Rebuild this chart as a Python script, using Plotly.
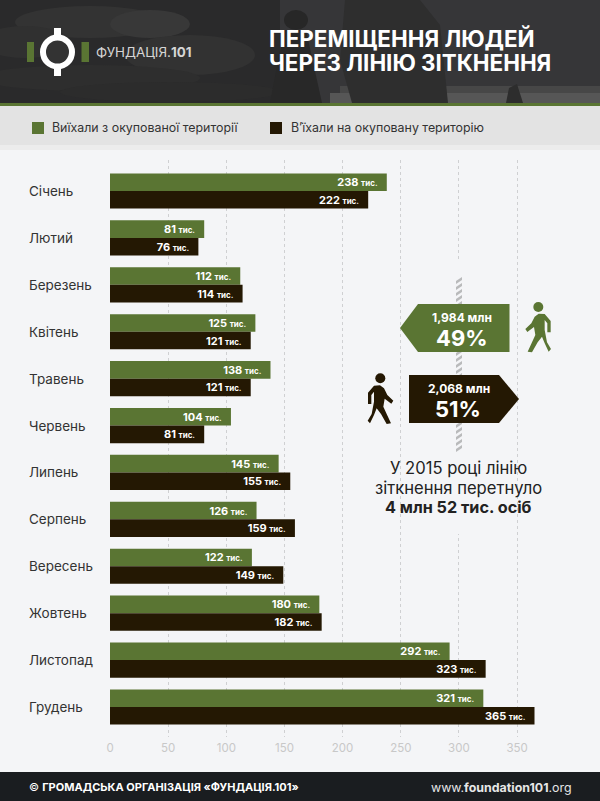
import plotly.graph_objects as go

W, H = 600, 801
FONT = "Inter"
GREEN = "#5a7533"
DARK = "#241803"
BG = "#f4f5f7"

months = ["Січень", "Лютий", "Березень", "Квітень", "Травень", "Червень",
          "Липень", "Серпень", "Вересень", "Жовтень", "Листопад", "Грудень"]
left_occupied = [238, 81, 112, 125, 138, 104, 145, 126, 122, 180, 292, 321]
entered_occupied = [222, 76, 114, 121, 121, 81, 155, 159, 149, 182, 323, 365]
x_ticks = [0, 50, 100, 150, 200, 250, 300, 350]
legend_names = ["Виїхали з окупованої території", "В’їхали на окуповану територію"]


def px(x):
    return x / W


def py(y):
    return 1 - y / H


def rect(x0, y0, x1, y1, color, **kw):
    return dict(type="rect", xref="paper", yref="paper", x0=px(x0), x1=px(x1),
                y0=py(y0), y1=py(y1), fillcolor=color, line_width=0, **kw)


def poly(points, color, opacity=1):
    path = "M" + " L".join(f"{px(x):.5f},{py(y):.5f}" for x, y in points) + " Z"
    return dict(type="path", xref="paper", yref="paper", path=path,
                fillcolor=color, line_width=0, opacity=opacity)


def blob(cx, cy, rx, ry, color, opacity=1):
    return dict(type="circle", xref="paper", yref="paper", x0=px(cx - rx), x1=px(cx + rx),
                y0=py(cy + ry), y1=py(cy - ry), fillcolor=color, line_width=0, opacity=opacity)


def label(text, x, y, size, color, anchor="center", weight=None):
    return dict(text=text, xref="paper", yref="paper", x=px(x), y=py(y), xanchor=anchor,
                yanchor="middle", showarrow=False,
                font=dict(family=FONT, size=size, color=color, weight=weight))


def bar_text(values):
    return [f'<b>{v} <span style="font-size:8px">тис.</span></b>\u00a0\u00a0' for v in values]


# walker outline, dark figure, in crop pixels of the side panel
walker = [(72, 377), (90, 376), (102, 385), (112, 405), (130, 422), (124, 431), (104, 416),
          (100, 440), (110, 462), (123, 490), (110, 492), (93, 462), (80, 445), (72, 465),
          (60, 490), (53, 482), (65, 462), (72, 425), (72, 395), (64, 405), (64, 432),
          (54, 432), (54, 398)]


def walker_shapes(color, mirror):
    if mirror:
        pts = [(350 + (565 - (x - 91)) / 3, 260 + (y - 215) / 3) for x, y in walker]
        head = (538.3, 307)
    else:
        pts = [(350 + x / 3, 260 + y / 3) for x, y in walker]
        head = (380.3, 378.3)
    return [poly(pts, color), blob(head[0], head[1], 5, 5, color)]


fig = go.Figure()
fig.add_trace(go.Bar(y=months, x=left_occupied, orientation="h", marker_color=GREEN,
                     marker_line_width=0, text=bar_text(left_occupied)))
fig.add_trace(go.Bar(y=months, x=entered_occupied, orientation="h", marker_color=DARK,
                     marker_line_width=0, text=bar_text(entered_occupied)))
fig.update_traces(textposition="inside", insidetextanchor="end", textangle=0,
                  constraintext="none", insidetextfont=dict(family=FONT, size=11, color="white"),
                  hoverinfo="skip")

shapes = [
    # header photo, roughly
    rect(0, 0, 600, 103, "#2a2a2b"),
    rect(280, 0, 600, 103, "#363638"),
    blob(90, 22, 75, 16, "#333333"),
    blob(150, 24, 40, 14, "#383838"),
    blob(25, 42, 45, 16, "#303030"),
    blob(190, 55, 65, 20, "#323232"),
    blob(90, 78, 110, 13, "#2e2e2e"),
    blob(170, 92, 110, 10, "#2c2c2c"),
    rect(330, 93, 600, 103, "#565656"),
    rect(340, 86, 600, 93, "#474747"),
    poly([(345, 0), (420, 0), (440, 25), (448, 103), (352, 103), (340, 60)], "#2e2e2e"),
    blob(296, 20, 12, 10, "#272727"),
    poly([(284, 30), (306, 30), (322, 103), (270, 103)], "#282828"),
    poly([(506, 103), (509, 88), (517, 84), (523, 103)], "#2d2d2d"),
    rect(0, 103, 600, 106, GREEN),
    rect(0, 106, 600, 145, "#e3e3e3"),
    rect(0, 145, 600, 150, "#ececec"),
    rect(0, 772, 600, 801, "#1a1d20"),
    # logo
    rect(27, 42, 34, 62, GREEN),
    rect(81.5, 42, 89, 62, GREEN),
    rect(54, 28, 61, 76, "white"),
    dict(type="circle", xref="paper", yref="paper", x0=px(43), x1=px(72), y0=py(66.5), y1=py(37.5),
         fillcolor="#333333", line=dict(color="white", width=6)),
    # legend swatches
    rect(32, 122, 44, 134, GREEN),
    rect(270, 122, 282, 134, DARK),
    # clear the 300 gridline behind the panel
    rect(455, 262, 464, 534, BG),
]

# hatched divider
for i in range(30):
    y = 277 + i * 6
    if y + 6 <= 451:
        shapes.append(poly([(456, y + 4), (462, y), (462, y + 3), (456, y + 7)], "#b9babb"))

shapes += [
    poly([(400, 328), (418, 304), (509.5, 304), (509.5, 352), (418, 352)], GREEN),
    poly([(409, 375), (499, 375), (519, 399), (499, 423), (409, 423)], DARK),
]
shapes += walker_shapes(GREEN, True)
shapes += walker_shapes(DARK, False)

annotations = [
    label("ФУНДАЦІЯ.<b>101</b>", 94, 52, 13.4, "#d5d5d5", "left"),
    label("<b>ПЕРЕМІЩЕННЯ ЛЮДЕЙ</b>", 266.5, 38, 22.4, "white", "left"),
    label("<b>ЧЕРЕЗ ЛІНІЮ ЗІТКНЕННЯ</b>", 266.5, 63, 22.4, "white", "left"),
    label(legend_names[0], 50, 128, 12.4, "#333333", "left"),
    label(legend_names[1], 289, 128, 12.4, "#333333", "left"),
    label("<b>1,984 млн</b>", 462, 317, 12, "white"),
    label("<b>49%</b>", 462, 338, 22, "white"),
    label("<b>2,068 млн</b>", 459, 388, 12, "white"),
    label("<b>51%</b>", 458, 409, 22, "white"),
    label("У 2015 році лінію", 458, 468, 16.6, "#222222"),
    label("зіткнення перетнуло", 458, 488, 16.6, "#222222"),
    label("<b>4 млн 52 тис. осіб</b>", 458, 507, 16.2, "#222222"),
    label("© <b>ГРОМАДСЬКА ОРГАНІЗАЦІЯ «ФУНДАЦІЯ.101»</b>", 27, 787, 11, "white", "left"),
    label("www.<b>foundation101</b>.org", 574, 787, 12.4, "#e6e6e6", "right"),
]
for month in months:
    annotations.append(dict(text=month, xref="paper", yref="y", x=px(27), y=month, xanchor="left",
                            yanchor="middle", showarrow=False,
                            font=dict(family=FONT, size=13.5, color="#333333")))

fig.update_layout(
    width=W, height=H, autosize=False,
    margin=dict(l=0, r=0, t=0, b=0),
    paper_bgcolor=BG, plot_bgcolor="rgba(0,0,0,0)",
    barmode="group", bargap=0.25, bargroupgap=0,
    showlegend=False,
    shapes=shapes,
    annotations=annotations,
)
fig.update_xaxes(domain=[px(110), px(560)], range=[0, 450 / 1.163], tickmode="array",
                 tickvals=x_ticks, showgrid=True, griddash="dot", gridcolor="#cfd0d2", gridwidth=1,
                 zeroline=False, showline=False, ticks="", ticklabelstandoff=2, automargin=False,
                 tickfont=dict(family=FONT, size=11.5, color="#c8c8c8"))
fig.update_yaxes(domain=[py(737), py(160)], categoryorder="array", categoryarray=months,
                 range=[11.64, -0.661], showticklabels=False, showgrid=False, zeroline=False,
                 ticks="", automargin=False)

fig.write_html("out.html", config=dict(displayModeBar=False),
               post_script="document.body.style.margin='0';document.body.style.overflow='hidden';")
